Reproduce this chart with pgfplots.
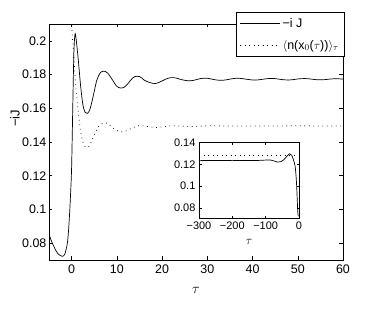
\documentclass[border=0pt]{standalone}
\usepackage{fontspec}
\setmainfont{Liberation Sans}
\usepackage{pgfplots}
\pgfplotsset{compat=1.18}
\begin{document}
\begin{tikzpicture}
\pgfplotsset{
  every axis/.append style={
    line width=0.6bp,
    tick style={line width=0.5bp, black},
    major tick length=3.5bp,
    /pgf/number format/assume math mode=true,
    /pgf/number format/fixed,
    /pgf/number format/precision=2,
  }
}
\begin{axis}[
  name=main,
  at={(0,0)}, anchor=south west,
  scale only axis, width=294bp, height=236bp,
  xmin=-5, xmax=60, ymin=0.07, ymax=0.21,
  xtick={0,10,20,30,40,50,60},
  ytick={0.08,0.1,0.12,0.14,0.16,0.18,0.2},
  yticklabels={0.08,0.1,0.12,0.14,0.16,0.18,0.2},
  tick label style={font=\fontsize{12.5}{14}\selectfont},
  yticklabel style={xshift=1bp},
  xticklabel style={yshift=-1bp},
  xlabel={$\tau$},
  ylabel={−iJ},
  label style={font=\fontsize{13}{15}\selectfont},
  xlabel style={at={(axis description cs:0.5,-0.127)}, anchor=center, font=\fontsize{15}{16}\selectfont},
  ylabel style={at={(axis description cs:-0.116,0.6)}, anchor=center},
  legend style={at={(rel axis cs:1.007,1.05)}, anchor=north east, draw=black, line width=0.6bp, fill=white,
    font=\fontsize{12.5}{14}\selectfont, row sep=7bp, inner sep=4bp},
  legend cell align=left,
  legend image code/.code={\draw[#1] (0bp,0bp) -- (40bp,0bp);},
]
\addplot[black, line width=0.7bp, smooth] coordinates {
(-5,0.0855) (-4.5,0.0815) (-4,0.0785) (-3.5,0.0757) (-3,0.0737) (-2.5,0.0726) (-2,0.0722) (-1.5,0.0735)
(-1,0.079) (-0.75,0.085) (-0.5,0.095) (-0.25,0.108) (0,0.125) (0.25,0.160) (0.5,0.193) (0.75,0.204)
(1.0,0.201) (1.5,0.188) (2.0,0.173) (2.5,0.162) (3.0,0.1575) (3.5,0.157) (4.0,0.159) (4.5,0.164)
(5,0.170) (5.5,0.176) (6,0.1795) (6.5,0.1815) (7,0.182) (7.5,0.1818) (8,0.1808) (8.5,0.179)
(9,0.177) (9.5,0.1748) (10,0.173) (10.5,0.1722) (11,0.172) (11.5,0.1723) (12,0.1733) (12.5,0.1748)
(13,0.1765) (13.5,0.178) (14,0.1788) (14.5,0.179) (15,0.1788) (15.5,0.178) (16,0.1768) (17,0.1755)
(18,0.1748) (18.5,0.1747) (19,0.175) (20,0.1762) (21,0.1775) (22,0.1782) (23,0.178) (24,0.1772)
(25,0.1766) (26,0.1763) (27,0.1766) (28,0.1773) (29,0.1778) (30,0.1778) (31,0.1773) (32,0.1768)
(33,0.1766) (34,0.1768) (35,0.1773) (36,0.1777) (37,0.1778) (38,0.1775) (39,0.1771) (40,0.1768)
(41,0.1768) (42,0.1771) (43,0.1775) (44,0.1777) (45,0.1776) (46,0.1772) (47,0.1769) (48,0.1768)
(49,0.177) (50,0.1774) (51,0.1776) (52,0.1776) (53,0.1773) (54,0.177) (55,0.1769) (56,0.177)
(57,0.1773) (58,0.1775) (59,0.1775) (60,0.1773)
};
\addlegendentry{−i J}
\addplot[black, line width=0.8bp, dash pattern=on 0.7bp off 3.8bp, smooth] coordinates {
(0,0.209) (0.25,0.200) (0.5,0.190) (0.75,0.180) (1.0,0.171) (1.5,0.157) (2.0,0.146) (2.5,0.140)
(3.0,0.1372) (3.5,0.1367) (4.0,0.138) (4.5,0.141) (5,0.1442) (5.5,0.147) (6,0.1493) (6.5,0.1507)
(7,0.1513) (7.5,0.1514) (8,0.1508) (9,0.1487) (10,0.1468) (11,0.146) (12,0.1465) (13,0.1478)
(14,0.149) (15,0.1497) (16,0.1496) (17,0.1491) (18,0.1487) (19,0.1486) (20,0.149) (22,0.1496)
(24,0.1495) (26,0.1492) (28,0.1493) (30,0.1496) (35,0.1495) (40,0.1495) (45,0.1495) (50,0.1496)
(55,0.1495) (60,0.1495)
};
\addlegendentry{$\langle$n(x$_0$($\tau$))$\rangle_\tau$}
\end{axis}
\begin{axis}[
  at={(150bp,41.3bp)}, anchor=south west,
  scale only axis, width=100bp, height=76bp,
  xmin=-300, xmax=0, ymin=0.07, ymax=0.14,
  xtick={-300,-200,-100,0},
  xticklabels={−300,−200,−100,0},
  ytick={0.08,0.1,0.12,0.14},
  yticklabels={0.08,0.1,0.12,0.14},
  major tick length=2.5bp,
  tick label style={font=\fontsize{11}{12}\selectfont},
  xlabel={$\tau$},
  xlabel style={at={(axis description cs:0.5,-0.30)}, anchor=center, font=\fontsize{13}{14}\selectfont},
  axis background/.style={fill=white},
  clip=true,
]
\addplot[black, line width=0.7bp, smooth] coordinates {
(-300,0.1235) (-250,0.1236) (-200,0.1237) (-150,0.1236) (-120,0.1237) (-100,0.124) (-85,0.124)
(-75,0.1232) (-65,0.1222) (-55,0.1225) (-45,0.1245) (-35,0.128) (-28,0.1298) (-22,0.1285)
(-17,0.1245) (-12,0.119) (-9,0.110) (-7,0.100) (-5,0.0855) (-4,0.0785) (-3,0.0737) (-2,0.0722)
};
\addplot[black, line width=0.8bp, dash pattern=on 0.7bp off 3.8bp] coordinates {
(-300,0.1282) (-5,0.1282)
};
\end{axis}
\path (-49bp,-60bp) rectangle (330bp,260bp);
\end{tikzpicture}
\end{document}
